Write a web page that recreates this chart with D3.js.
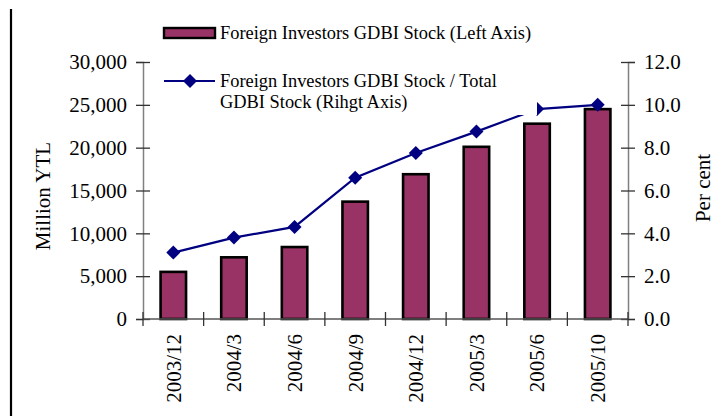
<!DOCTYPE html>
<html>
<head>
<meta charset="utf-8">
<script src="https://cdn.jsdelivr.net/npm/d3@7"></script>
<style>
  body { margin: 0; background: #fff; }
  text { font-family: "Liberation Serif", "Times New Roman", serif; fill: #000; }
</style>
</head>
<body>
<div id="container"></div>
<script>
// data
const periods = ["2003/12", "2004/3", "2004/6", "2004/9", "2004/12", "2005/3", "2005/6", "2005/10"];
const stock = [5500, 7200, 8400, 13700, 16900, 20100, 22800, 24500];   // million YTL, left axis
const share = [3.1, 3.8, 4.3, 6.6, 7.75, 8.75, 9.8, 10.0];             // per cent, right axis
const leftTicks = [0, 5000, 10000, 15000, 20000, 25000, 30000];
const rightTicks = [0, 2, 4, 6, 8, 10, 12];

const W = 722, H = 416;
const plot = { left: 143, right: 628, top: 62, bottom: 319 };

const svg = d3.select('#container')
  .append('svg')
  .attr('width', W)
  .attr('height', H);

// scales
const xScale = d3.scaleBand()
  .domain(periods)
  .range([plot.left, plot.right])
  .padding(0);

const yLeft = d3.scaleLinear().domain([0, 30000]).range([plot.bottom, plot.top]);
const yRight = d3.scaleLinear().domain([0, 12]).range([plot.bottom, plot.top]);

// left frame line
svg.append('line')
  .attr('x1', 11).attr('x2', 11)
  .attr('y1', 9).attr('y2', H)
  .attr('stroke', '#000').attr('stroke-width', 2.2);

// bars
const barW = xScale.bandwidth() * 0.42;
svg.selectAll('.bar')
  .data(periods)
  .enter()
  .append('rect')
  .attr('class', 'bar')
  .attr('x', d => xScale(d) + xScale.bandwidth() / 2 - barW / 2)
  .attr('y', (d, i) => yLeft(stock[i]))
  .attr('width', barW)
  .attr('height', (d, i) => plot.bottom - yLeft(stock[i]))
  .attr('fill', '#993366')
  .attr('stroke', '#000')
  .attr('stroke-width', 2.6);

// line
const lineData = periods.map((p, i) => ({ p, v: share[i] }));
const line = d3.line()
  .x(d => xScale(d.p) + xScale.bandwidth() / 2)
  .y(d => yRight(d.v));

svg.append('path')
  .datum(lineData)
  .attr('d', line)
  .attr('fill', 'none')
  .attr('stroke', '#000080')
  .attr('stroke-width', 2.2);

const diamond = d3.symbol().type(d3.symbolDiamond2).size(125);
svg.selectAll('.marker')
  .data(lineData)
  .enter()
  .append('path')
  .attr('class', 'marker')
  .attr('d', diamond)
  .attr('transform', d => `translate(${xScale(d.p) + xScale.bandwidth() / 2},${yRight(d.v)})`)
  .attr('fill', '#000080');

// left axis
const axL = svg.append('g')
  .attr('transform', `translate(${plot.left},0)`)
  .call(d3.axisLeft(yLeft).tickValues(leftTicks).tickFormat(d3.format(',')).tickSize(7).tickPadding(9));
axL.select('.domain').attr('stroke', '#808080').attr('stroke-width', 1.5);
axL.selectAll('.tick line').attr('x1', 7).attr('x2', -7).attr('stroke', '#333').attr('stroke-width', 1.3);
axL.selectAll('.tick text').attr('font-size', 21);

// right axis
const axR = svg.append('g')
  .attr('transform', `translate(${plot.right},0)`)
  .call(d3.axisRight(yRight).tickValues(rightTicks).tickFormat(d3.format('.1f')).tickSize(7).tickPadding(9));
axR.select('.domain').attr('stroke', '#808080').attr('stroke-width', 1.5);
axR.selectAll('.tick line').attr('x1', -7).attr('x2', 7).attr('stroke', '#333').attr('stroke-width', 1.3);
axR.selectAll('.tick text').attr('font-size', 21);

// bottom axis
svg.append('line')
  .attr('x1', plot.left).attr('x2', plot.right)
  .attr('y1', plot.bottom).attr('y2', plot.bottom)
  .attr('stroke', '#555').attr('stroke-width', 1.5);

const edges = periods.map(p => xScale(p)).concat([plot.right]);
svg.selectAll('.xtick')
  .data(edges)
  .enter()
  .append('line')
  .attr('class', 'xtick')
  .attr('x1', d => d).attr('x2', d => d)
  .attr('y1', plot.bottom - 7).attr('y2', plot.bottom + 7)
  .attr('stroke', '#333').attr('stroke-width', 1.3);

svg.selectAll('.xlabel')
  .data(periods)
  .enter()
  .append('text')
  .attr('class', 'xlabel')
  .attr('transform', d => `translate(${xScale(d) + xScale.bandwidth() / 2},334) rotate(-90)`)
  .attr('dy', '0.35em')
  .attr('text-anchor', 'end')
  .attr('font-size', 21)
  .text(d => d);

// axis titles
svg.append('text')
  .attr('transform', 'translate(43,196) rotate(-90)')
  .attr('dy', '0.35em')
  .attr('text-anchor', 'middle')
  .attr('font-size', 21)
  .text('Million YTL');

svg.append('text')
  .attr('transform', 'translate(703,188) rotate(-90)')
  .attr('dy', '0.35em')
  .attr('text-anchor', 'middle')
  .attr('font-size', 21)
  .text('Per cent');

// legend (white box covers the line behind it)
const legend = svg.append('g');
legend.append('rect')
  .attr('x', 156).attr('y', 14)
  .attr('width', 381).attr('height', 101)
  .attr('fill', '#fff');

legend.append('rect')
  .attr('x', 164).attr('y', 28)
  .attr('width', 51).attr('height', 10)
  .attr('fill', '#993366')
  .attr('stroke', '#000')
  .attr('stroke-width', 2.4);

legend.append('text')
  .attr('x', 220).attr('y', 39)
  .attr('font-size', 18.4)
  .text('Foreign Investors GDBI Stock (Left Axis)');

legend.append('line')
  .attr('x1', 164).attr('x2', 215)
  .attr('y1', 81).attr('y2', 81)
  .attr('stroke', '#000080').attr('stroke-width', 2.2);

legend.append('path')
  .attr('d', diamond)
  .attr('transform', 'translate(190,81)')
  .attr('fill', '#000080');

legend.append('text')
  .attr('x', 220).attr('y', 87)
  .attr('font-size', 18.4)
  .text('Foreign Investors GDBI Stock / Total');

legend.append('text')
  .attr('x', 220).attr('y', 108)
  .attr('font-size', 18.4)
  .text('GDBI Stock (Rihgt Axis)');
</script>
</body>
</html>
